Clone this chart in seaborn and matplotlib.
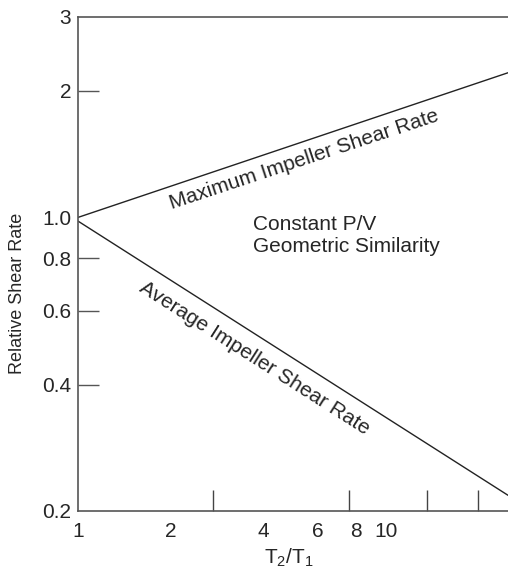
import numpy as np
import pandas as pd
import matplotlib
matplotlib.use("Agg")
import matplotlib.pyplot as plt
import seaborn as sns

# values (log-log chart)
scale_ratio = [1.0, 25.0]
max_shear = [1.0, 2.21]
avg_shear = [0.98, 0.218]

y_ticks = [0.2, 0.4, 0.6, 0.8, 1.0, 2, 3]
y_labels = ["0.2", "0.4", "0.6", "0.8", "1.0", "2", "3"]
x_ticks = [1, 2, 4, 6, 8, 10]
x_labels = ["1", "2", "4", "6", "8", "10"]
x_marks = [2.75, 7.6, 13.6, 20]   # unlabeled tick marks on the x axis

sns.set_style("ticks")
plt.rcParams['font.family'] = ['Liberation Sans', 'DejaVu Sans']
plt.rcParams['mathtext.default'] = 'regular'

df = pd.DataFrame({
    'ratio': scale_ratio * 2,
    'rate': max_shear + avg_shear,
    'curve': ['max'] * 2 + ['avg'] * 2,
})

fig = plt.figure(figsize=(5.08, 5.72), dpi=100)
ax = fig.add_axes([78 / 508, 61 / 572, 430 / 508, 494 / 572])

sns.lineplot(data=df, x='ratio', y='rate', units='curve', estimator=None,
             color='#222222', linewidth=1.0, ax=ax, legend=False)

ax.set_xscale('log')
ax.set_yscale('log')
ax.set_xlim(1, 25)
ax.set_ylim(0.2, 3)

# y axis
ax.set_yticks(y_ticks)
ax.set_yticklabels(y_labels, fontsize=15)
ax.yaxis.set_minor_locator(matplotlib.ticker.NullLocator())
ax.tick_params(axis='y', which='major', direction='in', length=15, width=1.0,
               color='#555555', pad=5)
for i, t in enumerate(ax.yaxis.get_major_ticks()):
    if y_labels[i] in ("0.2", "1.0", "3"):
        t.tick1line.set_visible(False)
    if y_labels[i] == "2":
        t.tick1line.set_color('#aaaaaa')

# x axis: labels without marks, marks without labels
ax.set_xticks(x_ticks)
ax.set_xticklabels(x_labels, fontsize=15)
ax.set_xticks(x_marks, minor=True)
ax.xaxis.set_minor_formatter(matplotlib.ticker.NullFormatter())
ax.tick_params(axis='x', which='major', length=0, pad=8)
ax.tick_params(axis='x', which='minor', direction='in', length=15, width=1.0,
               color='#444444')

for side in ('left', 'top', 'bottom'):
    ax.spines[side].set_color('#555555')
    ax.spines[side].set_linewidth(1.2)
ax.spines['right'].set_visible(False)

ax.set_xlabel('T$_2$/T$_1$', fontsize=15)
ax.xaxis.set_label_coords(0.49, -0.072)
ax.set_ylabel('Relative Shear Rate', fontsize=13)
ax.yaxis.set_label_coords(-0.122, 0.44)

# annotations along the lines
ax.text(5.43, 1.37, 'Maximum Impeller Shear Rate', rotation=18.3,
        ha='center', va='center', fontsize=15, rotation_mode='anchor')
ax.text(3.76, 0.462, 'Average Impeller Shear Rate', rotation=-32.5,
        ha='center', va='center', fontsize=15, rotation_mode='anchor')
ax.text(3.71, 0.904, 'Constant P/V\nGeometric Similarity', ha='left',
        va='center', fontsize=15, linespacing=1.2)

plt.savefig('out.png', dpi=100)
plt.close()
